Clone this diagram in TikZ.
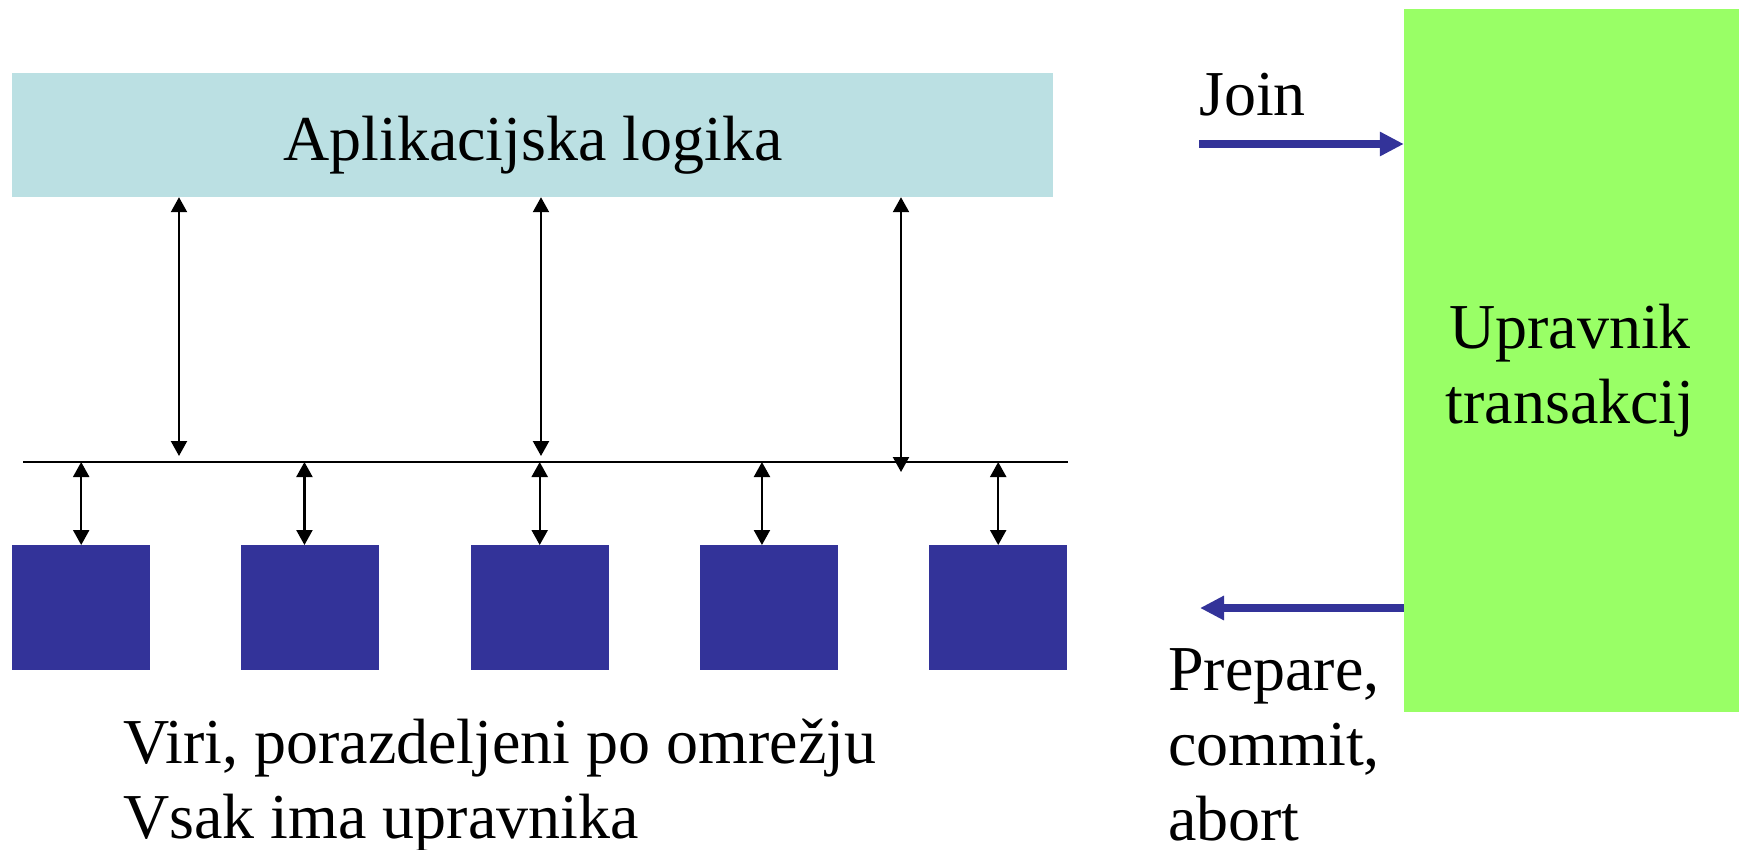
\documentclass[tikz,border=0pt]{standalone}
\usepackage{fontspec}
\setmainfont{Liberation Serif}
\usepackage{tikz}
\usetikzlibrary{arrows.meta, positioning}
\definecolor{applogic}{HTML}{BBE0E3}
\definecolor{tmgreen}{HTML}{99FF66}
\definecolor{resblue}{HTML}{333399}

\tikzset{
  bigtext/.style={font=\fontsize{64}{75}\selectfont, inner sep=0pt},
  appbox/.style={fill=applogic, minimum width=1041pt, minimum height=124pt, inner sep=0pt},
  tmbox/.style={fill=tmgreen, minimum width=335pt, minimum height=703pt, inner sep=0pt},
  resbox/.style={fill=resblue, minimum width=138pt, minimum height=125pt, inner sep=0pt},
  link/.style={line width=2.2pt, {Triangle[length=15pt,width=16pt]}-{Triangle[length=15pt,width=16pt]}},
  ctrl/.style={draw=resblue, line width=8pt, -{Triangle[length=24pt,width=23pt]}},
}

\begin{document}
\begin{tikzpicture}[x=1pt, y=-1pt]
\useasboundingbox (0,0) rectangle (1745,849);
%
\node[appbox] (app) at (532.5,135) {};
\node[bigtext, anchor=base] (applbl) at (533,160) {Aplikacijska logika};
\node[tmbox] (tm) at (1571.5,360.5) {};
\node[bigtext, align=center, anchor=base] (tmlbl) at (1570,423) {Upravnik\\transakcij};
%
% vodilo
\coordinate (busL) at (23,462);
\coordinate (busR) at (1068,462);
\draw[line width=2.8pt] (busL) -- (busR);
%
\foreach \i in {0,...,4}
  \node[resbox, anchor=north west] (res\i) at (12+229.25*\i,545) {};
\foreach \i/\d in {0/0,1/-6,2/0,3/-7,4/0}
  \draw[link] ([xshift=\d pt]res\i.north |- busL) -- ([xshift=\d pt]res\i.north);
%
\coordinate (t1) at (179,456);
\coordinate (t2) at (541,456);
\coordinate (t3) at (901,472);
\foreach \t in {t1,t2,t3}
  \draw[link] (app.south -| \t) -- (\t);
%
\coordinate (joinstart) at (1199,144);
\coordinate (prepend) at (1200,608);
\draw[ctrl] (joinstart) -- (joinstart -| tm.west);
\draw[ctrl] (prepend -| tm.west) -- (prepend);
\node[bigtext, anchor=base west] (join) at (1199,115) {Join};
\node[bigtext, align=left, anchor=base west] (pca) at (1168,840) {Prepare,\\commit,\\abort};
%
\node[bigtext, align=left, anchor=base west] (viri) at (123,838) {Viri, porazdeljeni po omrežju\\Vsak ima upravnika};
\end{tikzpicture}
\end{document}
